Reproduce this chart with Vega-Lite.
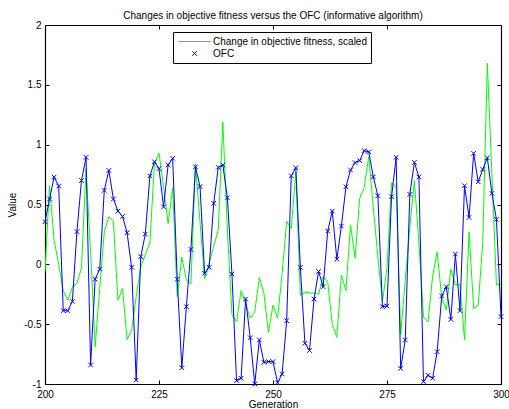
{
  "$schema": "https://vega.github.io/schema/vega-lite/v6.json",
  "width": 456,
  "height": 359,
  "autosize": "none",
  "padding": {"left": 45, "top": 25, "right": 8, "bottom": 25},
  "background": "white",
  "title": {
    "text": "Changes in objective fitness versus the OFC (informative algorithm)",
    "font": "Liberation Sans",
    "fontSize": 10,
    "fontWeight": "normal",
    "color": "black",
    "anchor": "middle",
    "offset": -1
  },
  "config": {
    "view": {"stroke": null},
    "axis": {
      "labelFont": "Liberation Sans",
      "labelFontSize": 10,
      "labelColor": "black",
      "titleFont": "Liberation Sans",
      "titleFontSize": 10,
      "titleFontWeight": "normal",
      "titleColor": "black",
      "domainColor": "black",
      "domainWidth": 1.2,
      "tickColor": "black",
      "tickSize": -4,
      "grid": false
    },
    "legend": {
      "orient": "none",
      "legendX": 128,
      "legendY": 7,
      "padding": 4,
      "strokeColor": "black",
      "fillColor": "white",
      "symbolSize": 100,
      "symbolOffset": 12,
      "labelOffset": 13,
      "labelFont": "Liberation Sans",
      "labelFontSize": 10,
      "labelColor": "black",
      "symbolStrokeWidth": 1,
      "rowPadding": 1
    }
  },
  "data": {
    "values": [
      {"g":200,"s":"fit","v":-0.06},{"g":201,"s":"fit","v":0.66},{"g":202,"s":"fit","v":0.2},{"g":203,"s":"fit","v":0.0},{"g":204,"s":"fit","v":-0.22},
      {"g":205,"s":"fit","v":-0.3},{"g":206,"s":"fit","v":-0.19},{"g":207,"s":"fit","v":-0.16},{"g":208,"s":"fit","v":-0.03},{"g":209,"s":"fit","v":0.8},
      {"g":210,"s":"fit","v":0.1},{"g":211,"s":"fit","v":-0.69},{"g":212,"s":"fit","v":-0.2},{"g":213,"s":"fit","v":0.27},{"g":214,"s":"fit","v":0.4},
      {"g":215,"s":"fit","v":0.36},{"g":216,"s":"fit","v":-0.3},{"g":217,"s":"fit","v":-0.2},{"g":218,"s":"fit","v":-0.63},{"g":219,"s":"fit","v":-0.55},
      {"g":220,"s":"fit","v":-0.27},{"g":221,"s":"fit","v":-0.02},{"g":222,"s":"fit","v":0.08},{"g":223,"s":"fit","v":0.18},{"g":224,"s":"fit","v":0.84},
      {"g":225,"s":"fit","v":0.93},{"g":226,"s":"fit","v":0.65},{"g":227,"s":"fit","v":0.34},{"g":228,"s":"fit","v":0.64},{"g":229,"s":"fit","v":-0.27},
      {"g":230,"s":"fit","v":0.06},{"g":231,"s":"fit","v":-0.13},{"g":232,"s":"fit","v":-0.165},{"g":233,"s":"fit","v":0.84},{"g":234,"s":"fit","v":0.35},
      {"g":235,"s":"fit","v":-0.12},{"g":236,"s":"fit","v":0.01},{"g":237,"s":"fit","v":0.15},{"g":238,"s":"fit","v":0.29},{"g":239,"s":"fit","v":1.19},
      {"g":240,"s":"fit","v":0.28},{"g":241,"s":"fit","v":-0.42},{"g":242,"s":"fit","v":-0.48},{"g":243,"s":"fit","v":-0.22},{"g":244,"s":"fit","v":-0.33},
      {"g":245,"s":"fit","v":-0.45},{"g":246,"s":"fit","v":-0.4},{"g":247,"s":"fit","v":-0.11},{"g":248,"s":"fit","v":-0.24},{"g":249,"s":"fit","v":-0.57},
      {"g":250,"s":"fit","v":-0.34},{"g":251,"s":"fit","v":-0.45},{"g":252,"s":"fit","v":-0.08},{"g":253,"s":"fit","v":0.36},{"g":254,"s":"fit","v":0.3},
      {"g":255,"s":"fit","v":0.77},{"g":256,"s":"fit","v":-0.26},{"g":257,"s":"fit","v":-0.23},{"g":258,"s":"fit","v":-0.24},{"g":259,"s":"fit","v":-0.24},
      {"g":260,"s":"fit","v":-0.25},{"g":261,"s":"fit","v":-0.1},{"g":262,"s":"fit","v":-0.15},{"g":263,"s":"fit","v":-0.5},{"g":264,"s":"fit","v":-0.61},
      {"g":265,"s":"fit","v":-0.09},{"g":266,"s":"fit","v":-0.22},{"g":267,"s":"fit","v":0.33},{"g":268,"s":"fit","v":0.05},{"g":269,"s":"fit","v":0.55},
      {"g":270,"s":"fit","v":0.64},{"g":271,"s":"fit","v":0.9},{"g":272,"s":"fit","v":0.47},{"g":273,"s":"fit","v":0.06},{"g":274,"s":"fit","v":-0.31},
      {"g":275,"s":"fit","v":-0.03},{"g":276,"s":"fit","v":0.68},{"g":277,"s":"fit","v":0.65},{"g":278,"s":"fit","v":-0.59},{"g":279,"s":"fit","v":-0.13},
      {"g":280,"s":"fit","v":0.31},{"g":281,"s":"fit","v":0.7},{"g":282,"s":"fit","v":0.18},{"g":283,"s":"fit","v":-0.44},{"g":284,"s":"fit","v":-0.48},
      {"g":285,"s":"fit","v":-0.1},{"g":286,"s":"fit","v":0.105},{"g":287,"s":"fit","v":-0.28},{"g":288,"s":"fit","v":-0.38},{"g":289,"s":"fit","v":-0.04},
      {"g":290,"s":"fit","v":-0.17},{"g":291,"s":"fit","v":-0.17},{"g":292,"s":"fit","v":-0.63},{"g":293,"s":"fit","v":0.27},{"g":294,"s":"fit","v":-0.37},
      {"g":295,"s":"fit","v":-0.34},{"g":296,"s":"fit","v":0.18},{"g":297,"s":"fit","v":1.68},{"g":298,"s":"fit","v":0.76},{"g":299,"s":"fit","v":-0.17},
      {"g":300,"s":"fit","v":-0.17},
      {"g":200,"s":"OFC","v":0.356},{"g":201,"s":"OFC","v":0.546},{"g":202,"s":"OFC","v":0.729},{"g":203,"s":"OFC","v":0.654},{"g":204,"s":"OFC","v":-0.387},
      {"g":205,"s":"OFC","v":-0.387},{"g":206,"s":"OFC","v":-0.31},{"g":207,"s":"OFC","v":0.273},{"g":208,"s":"OFC","v":0.7},{"g":209,"s":"OFC","v":0.894},
      {"g":210,"s":"OFC","v":-0.841},{"g":211,"s":"OFC","v":-0.123},{"g":212,"s":"OFC","v":-0.04},{"g":213,"s":"OFC","v":0.618},{"g":214,"s":"OFC","v":0.785},
      {"g":215,"s":"OFC","v":0.546},{"g":216,"s":"OFC","v":0.445},{"g":217,"s":"OFC","v":0.4},{"g":218,"s":"OFC","v":0.264},{"g":219,"s":"OFC","v":-0.025},
      {"g":220,"s":"OFC","v":-0.967},{"g":221,"s":"OFC","v":0.064},{"g":222,"s":"OFC","v":0.253},{"g":223,"s":"OFC","v":0.738},{"g":224,"s":"OFC","v":0.857},
      {"g":225,"s":"OFC","v":0.8},{"g":226,"s":"OFC","v":0.48},{"g":227,"s":"OFC","v":0.83},{"g":228,"s":"OFC","v":0.886},{"g":229,"s":"OFC","v":-0.125},
      {"g":230,"s":"OFC","v":-0.864},{"g":231,"s":"OFC","v":-0.354},{"g":232,"s":"OFC","v":0.125},{"g":233,"s":"OFC","v":0.815},{"g":234,"s":"OFC","v":0.65},
      {"g":235,"s":"OFC","v":-0.075},{"g":236,"s":"OFC","v":-0.025},{"g":237,"s":"OFC","v":0.51},{"g":238,"s":"OFC","v":0.81},{"g":239,"s":"OFC","v":0.83},
      {"g":240,"s":"OFC","v":0.556},{"g":241,"s":"OFC","v":-0.081},{"g":242,"s":"OFC","v":-0.972},{"g":243,"s":"OFC","v":-0.952},{"g":244,"s":"OFC","v":-0.29},
      {"g":245,"s":"OFC","v":-0.613},{"g":246,"s":"OFC","v":-1.0},{"g":247,"s":"OFC","v":-0.632},{"g":248,"s":"OFC","v":-0.819},{"g":249,"s":"OFC","v":-0.813},
      {"g":250,"s":"OFC","v":-0.813},{"g":251,"s":"OFC","v":-0.989},{"g":252,"s":"OFC","v":-0.916},{"g":253,"s":"OFC","v":-0.471},{"g":254,"s":"OFC","v":0.74},
      {"g":255,"s":"OFC","v":0.807},{"g":256,"s":"OFC","v":-0.025},{"g":257,"s":"OFC","v":-0.66},{"g":258,"s":"OFC","v":-0.72},{"g":259,"s":"OFC","v":-0.29},
      {"g":260,"s":"OFC","v":-0.06},{"g":261,"s":"OFC","v":-0.187},{"g":262,"s":"OFC","v":0.278},{"g":263,"s":"OFC","v":0.445},{"g":264,"s":"OFC","v":0.044},
      {"g":265,"s":"OFC","v":0.32},{"g":266,"s":"OFC","v":0.648},{"g":267,"s":"OFC","v":0.788},{"g":268,"s":"OFC","v":0.85},{"g":269,"s":"OFC","v":0.866},
      {"g":270,"s":"OFC","v":0.95},{"g":271,"s":"OFC","v":0.94},{"g":272,"s":"OFC","v":0.73},{"g":273,"s":"OFC","v":0.573},{"g":274,"s":"OFC","v":-0.354},
      {"g":275,"s":"OFC","v":-0.348},{"g":276,"s":"OFC","v":0.565},{"g":277,"s":"OFC","v":0.894},{"g":278,"s":"OFC","v":-0.87},{"g":279,"s":"OFC","v":-0.632},
      {"g":280,"s":"OFC","v":0.585},{"g":281,"s":"OFC","v":0.852},{"g":282,"s":"OFC","v":0.73},{"g":283,"s":"OFC","v":-0.98},{"g":284,"s":"OFC","v":-0.927},
      {"g":285,"s":"OFC","v":-0.952},{"g":286,"s":"OFC","v":-0.73},{"g":287,"s":"OFC","v":-0.265},{"g":288,"s":"OFC","v":-0.187},{"g":289,"s":"OFC","v":-0.46},
      {"g":290,"s":"OFC","v":0.086},{"g":291,"s":"OFC","v":-0.387},{"g":292,"s":"OFC","v":0.657},{"g":293,"s":"OFC","v":0.392},{"g":294,"s":"OFC","v":0.927},
      {"g":295,"s":"OFC","v":0.69},{"g":296,"s":"OFC","v":0.793},{"g":297,"s":"OFC","v":0.89},{"g":298,"s":"OFC","v":0.593},{"g":299,"s":"OFC","v":0.376},
      {"g":300,"s":"OFC","v":-0.437}
    ]
  },
  "layer": [
    {
      "transform": [{"filter": "datum.s === 'fit'"}],
      "mark": {"type": "line", "color": "#00ff00", "strokeWidth": 1, "clip": true},
      "encoding": {
        "x": {"field": "g", "type": "quantitative", "scale": {"domain": [200, 300], "nice": false, "zero": false},
              "axis": {"orient": "bottom", "values": [200, 225, 250, 275, 300], "title": "Generation", "labelPadding": 9, "titlePadding": 0, "labelFlush": false}},
        "y": {"field": "v", "type": "quantitative", "scale": {"domain": [-1, 2], "nice": false, "zero": false},
              "axis": {"orient": "left", "values": [-1, -0.5, 0, 0.5, 1, 1.5, 2], "labelExpr": "datum.value + ''", "title": "Value", "labelPadding": 8, "titlePadding": 6, "labelFlush": false}}
      }
    },
    {
      "transform": [{"filter": "datum.s === 'OFC'"}],
      "mark": {"type": "line", "color": "#0000ff", "strokeWidth": 1, "clip": true},
      "encoding": {
        "x": {"field": "g", "type": "quantitative",
              "axis": {"orient": "top", "values": [200, 225, 250, 275, 300], "labels": false, "title": null}},
        "y": {"field": "v", "type": "quantitative",
              "axis": {"orient": "right", "values": [-1, -0.5, 0, 0.5, 1, 1.5, 2], "labels": false, "title": null}}
      }
    },
    {
      "transform": [{"filter": "datum.s === 'OFC'"}],
      "mark": {"type": "point", "filled": false, "size": 100, "strokeWidth": 1, "opacity": 1},
      "encoding": {
        "x": {"field": "g", "type": "quantitative", "axis": null},
        "y": {"field": "v", "type": "quantitative", "axis": null},
        "color": {"field": "s", "type": "nominal",
                  "scale": {"domain": ["fit", "OFC"], "range": ["#00ff00", "#0000ff"]},
                  "legend": {"title": null, "labelExpr": "datum.value === 'fit' ? 'Change in objective fitness, scaled' : 'OFC'"}},
        "shape": {"field": "s", "type": "nominal",
                  "scale": {"domain": ["fit", "OFC"], "range": ["M-3.2,0L3.2,0", "M-0.45,-0.45L0.45,0.45M-0.45,0.45L0.45,-0.45"]},
                  "legend": {"title": null, "labelExpr": "datum.value === 'fit' ? 'Change in objective fitness, scaled' : 'OFC'"}}
      }
    }
  ],
  "resolve": {"axis": {"x": "independent", "y": "independent"}}
}
